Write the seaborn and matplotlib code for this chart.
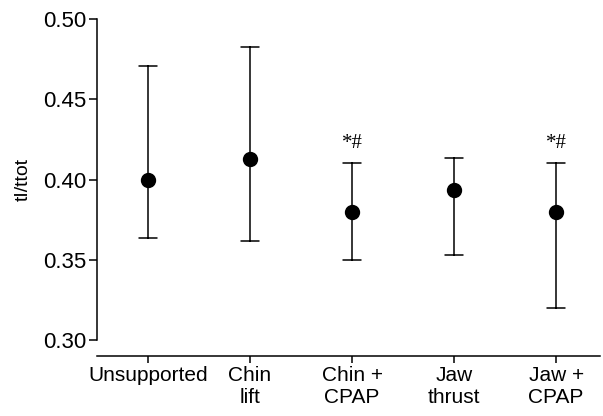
import numpy as np
import pandas as pd
import matplotlib
matplotlib.use("Agg")
import matplotlib.pyplot as plt
import seaborn as sns

# values
groups = ["Unsupported", "Chin\nlift", "Chin +\nCPAP", "Jaw\nthrust", "Jaw +\nCPAP"]
means = [0.400, 0.413, 0.380, 0.3935, 0.380]
lower = [0.3636, 0.3617, 0.350, 0.353, 0.320]
upper = [0.471, 0.4826, 0.410, 0.4135, 0.410]
marks = ["", "", "*#", "", "*#"]

# long table: median of (lower, mean, upper) is the mean, min-max is the bar
df = pd.DataFrame({
    "group": np.repeat(groups, 3),
    "value": np.ravel(np.column_stack([lower, means, upper])),
})

sns.set_style("ticks")
plt.rcParams["font.family"] = ["Liberation Sans Narrow", "Liberation Sans", "DejaVu Sans"]
plt.rcParams["text.color"] = "black"
plt.rcParams["xtick.color"] = "black"
plt.rcParams["ytick.color"] = "black"
plt.rcParams["axes.labelcolor"] = "black"
plt.rcParams["axes.edgecolor"] = "black"

fig = plt.figure(figsize=(6.03, 4.16), dpi=100)
ax = fig.add_axes([97 / 603, 1 - 340 / 416, 503 / 603, 321 / 416])

sns.pointplot(data=df, x="group", y="value", order=groups, estimator="median",
              errorbar=("pi", 100), capsize=0.18, color="black", linestyle="none",
              markers="o", markersize=9, err_kws={"linewidth": 1.1}, ax=ax)

for i, m in enumerate(marks):
    if m:
        ax.text(i, upper[i] + 0.0065, m, ha="center", va="bottom",
                family="Liberation Serif", fontsize=15)

ax.set_ylim(0.30, 0.50)
ax.set_xlim(-0.5, 4.43)
ax.set_yticks([0.30, 0.35, 0.40, 0.45, 0.50])
ax.set_yticklabels(["0.30", "0.35", "0.40", "0.45", "0.50"])
ax.set_xlabel("")
ax.set_ylabel("tI/ttot", fontsize=14, labelpad=8)
ax.tick_params(axis="y", labelsize=16, length=6, width=1.1, pad=2)
ax.tick_params(axis="x", labelsize=15, length=5, width=1.1, pad=2)
for lab in ax.get_xticklabels():
    lab.set_linespacing(0.95)

sns.despine(ax=ax)
ax.spines["bottom"].set_position(("outward", 11.5))
ax.spines["left"].set_linewidth(1.1)
ax.spines["bottom"].set_linewidth(1.1)

fig.savefig("out.png", dpi=100)
